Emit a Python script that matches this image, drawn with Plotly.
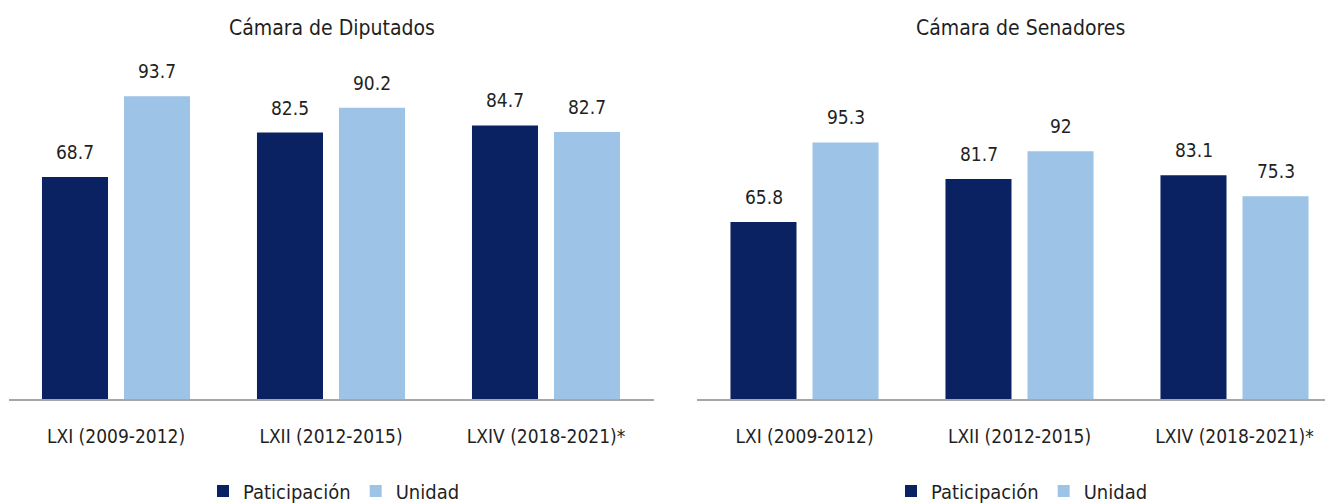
import plotly.graph_objects as go

categories = ["LXI (2009-2012)", "LXII (2012-2015)", "LXIV (2018-2021)*"]
diputados_participacion = [68.7, 82.5, 84.7]
diputados_unidad = [93.7, 90.2, 82.7]
senadores_participacion = [65.8, 81.7, 83.1]
senadores_unidad = [95.3, 92, 75.3]
series_names = ["Paticipación", "Unidad"]
titles = ["Cámara de Diputados", "Cámara de Senadores"]

DARK = "#0B2262"
LIGHT = "#9DC3E6"
TXT = "#1f1f1f"
FONT = "DejaVu Sans Condensed, Liberation Sans Narrow, sans-serif"
FS = 19
# the page body has an 8px margin, so the figure is sized to the visible area
OFF = 8
W, H = 1333 - OFF, 504 - OFF
AXIS_Y = 399 - OFF
MT, MB = 76 - OFF, H - AXIS_Y

fig = go.Figure()

panels = [
    (diputados_participacion, diputados_unidad, "x", "y", "legend"),
    (senadores_participacion, senadores_unidad, "x2", "y2", "legend2"),
]
for part, uni, xa, ya, lg in panels:
    fig.add_trace(go.Bar(x=categories, y=part, name=series_names[0], marker_color=DARK,
                         xaxis=xa, yaxis=ya, legend=lg, marker_line_width=0))
    fig.add_trace(go.Bar(x=categories, y=uni, name=series_names[1], marker_color=LIGHT,
                         xaxis=xa, yaxis=ya, legend=lg, marker_line_width=0))
    for vals, dx in ((part, -41), (uni, 41)):
        for c, v in zip(categories, vals):
            fig.add_annotation(x=c, y=v, xref=xa, yref=ya, text=f"{v:g}", showarrow=False,
                               xshift=dx, yshift=25, yanchor="middle", xanchor="center",
                               font=dict(size=FS, color=TXT, family=FONT))

left_dom = [(8.5 - OFF) / W, (653.5 - OFF) / W]
right_dom = [(697 - OFF) / W, 1.0]
right_cut = (697 + 645 - 1333) / 215

axis_common = dict(showgrid=False, zeroline=False, showline=True, linecolor="#A6A6A6",
                   linewidth=1.5, ticks="", tickfont=dict(size=FS, color=TXT, family=FONT),
                   ticklabelstandoff=19, automargin=False)
leg_common = dict(orientation="h", xanchor="center", yref="container",
                  y=(H - (491 - OFF)) / H, yanchor="middle",
                  font=dict(size=20, color=TXT, family=FONT),
                  itemwidth=30, tracegroupgap=0)
fig.update_layout(
    width=W, height=H,
    margin=dict(l=0, r=0, t=MT, b=MB, autoexpand=False),
    paper_bgcolor="white", plot_bgcolor="white",
    barmode="group", bargap=0.237, bargroupgap=0.195,
    font=dict(family=FONT, color=TXT),
    xaxis=dict(domain=left_dom, range=[-0.5, 2.5], **axis_common),
    xaxis2=dict(domain=right_dom, range=[-0.5, 2.5 - right_cut], anchor="y2", **axis_common),
    yaxis=dict(domain=[0, 1], range=[0, 100], visible=False),
    yaxis2=dict(domain=[0, 1], range=[0, 120], visible=False, anchor="x2"),
    legend=dict(x=(334 - OFF) / W, **leg_common),
    legend2=dict(x=(1022 - OFF) / W, **leg_common),
)

plot_h = H - MT - MB
for t, cx in zip(titles, [332, 1020]):
    fig.add_annotation(text=t, x=(cx - OFF) / W, y=1 + (MT - (28 - OFF)) / plot_h,
                       xref="paper", yref="paper", showarrow=False,
                       xanchor="center", yanchor="middle",
                       font=dict(size=21, color=TXT, family=FONT))

fig.write_html("out.html")
